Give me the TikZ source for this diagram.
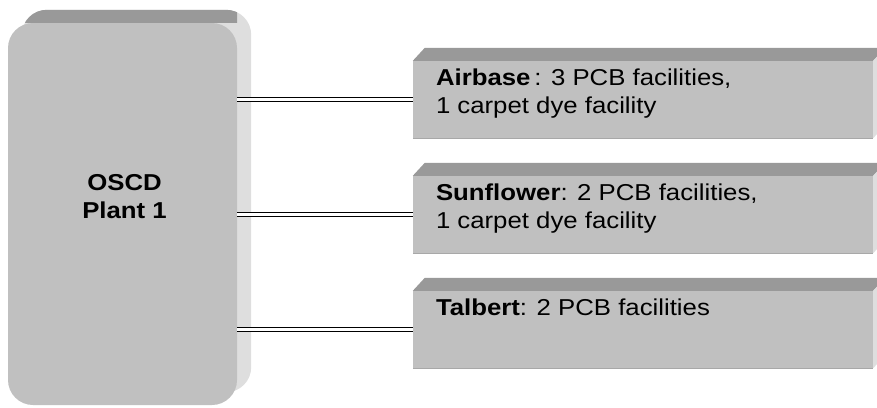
\documentclass[tikz,border=0pt]{standalone}
\usepackage{fontspec}
\newfontfamily\boxfont{Liberation Sans}[FakeStretch=1.12]
\usetikzlibrary{positioning,backgrounds}

\definecolor{faceGray}{HTML}{C0C0C0}
\definecolor{topGray}{HTML}{999999}
\definecolor{sideGray}{HTML}{DEDEDE}
\definecolor{edgeGray}{HTML}{A8A8A8}

\begin{document}
\begin{tikzpicture}[x=1pt,y=1pt,
  plantbox/.style={fill=faceGray,minimum width=229pt,minimum height=382pt,rounded corners=25pt,inner sep=0pt},
  sitebox/.style={fill=faceGray,minimum width=460pt,minimum height=77pt,inner sep=0pt},
  txt/.style={font=\boxfont\fontsize{23}{28}\selectfont,align=left,inner sep=0pt},
  link/.style={draw=black,line width=1.2pt,double=white,double distance=2.4pt}]
\useasboundingbox (0,0) rectangle (877,-407);

\node[plantbox] (plant) at (122.5,-214) {};
\node[sitebox] (airbase) at (643,-99.5) {};
\node[sitebox] (sunflower) at (643,-214.5) {};
\node[sitebox] (talbert) at (643,-329.5) {};

% 3d look
\begin{scope}[on background layer]
\fill[sideGray,rounded corners=25pt] ([shift={(14,13)}]plant.south west) rectangle ([shift={(14,13)}]plant.north east);
\begin{scope}
\clip (plant.north west) rectangle ([shift={(0,20)}]plant.north east);
\fill[topGray,rounded corners=25pt] ([shift={(14,13)}]plant.south west) rectangle ([shift={(14,13)}]plant.north east);
\end{scope}
\foreach \s in {airbase,sunflower,talbert} {
  \fill[topGray] (\s.north west) -- ++(12,13) -- ([shift={(12,13)}]\s.north east) -- (\s.north east) -- cycle;
  \fill[sideGray] (\s.north east) -- ++(12,13) -- ([shift={(12,13)}]\s.south east) -- (\s.south east) -- cycle;
}
\end{scope}
\foreach \s in {airbase,sunflower,talbert}
  \draw[edgeGray,line width=1pt] (\s.south west) -- (\s.south east);

\node[txt,align=center] (plantTxt) at ([shift={(2,17)}]plant.center) {\textbf{OSCD}\\\textbf{Plant 1}};
\node[txt,below right=8pt and 23pt of airbase.north west] (airbaseTxt) {\textbf{Airbase}\,: 3 PCB facilities,\\1 carpet dye facility};
\node[txt,below right=8pt and 23pt of sunflower.north west] (sunflowerTxt) {\textbf{Sunflower}: 2 PCB facilities,\\1 carpet dye facility};
\node[txt,below right=8pt and 23pt of talbert.north west] (talbertTxt) {\textbf{Talbert}: 2 PCB facilities};

\draw[link] (plant.east |- airbase.west) -- (airbase.west);
\draw[link] (plant.east |- sunflower.west) -- (sunflower.west);
\draw[link] (plant.east |- talbert.west) -- (talbert.west);
\end{tikzpicture}
\end{document}
